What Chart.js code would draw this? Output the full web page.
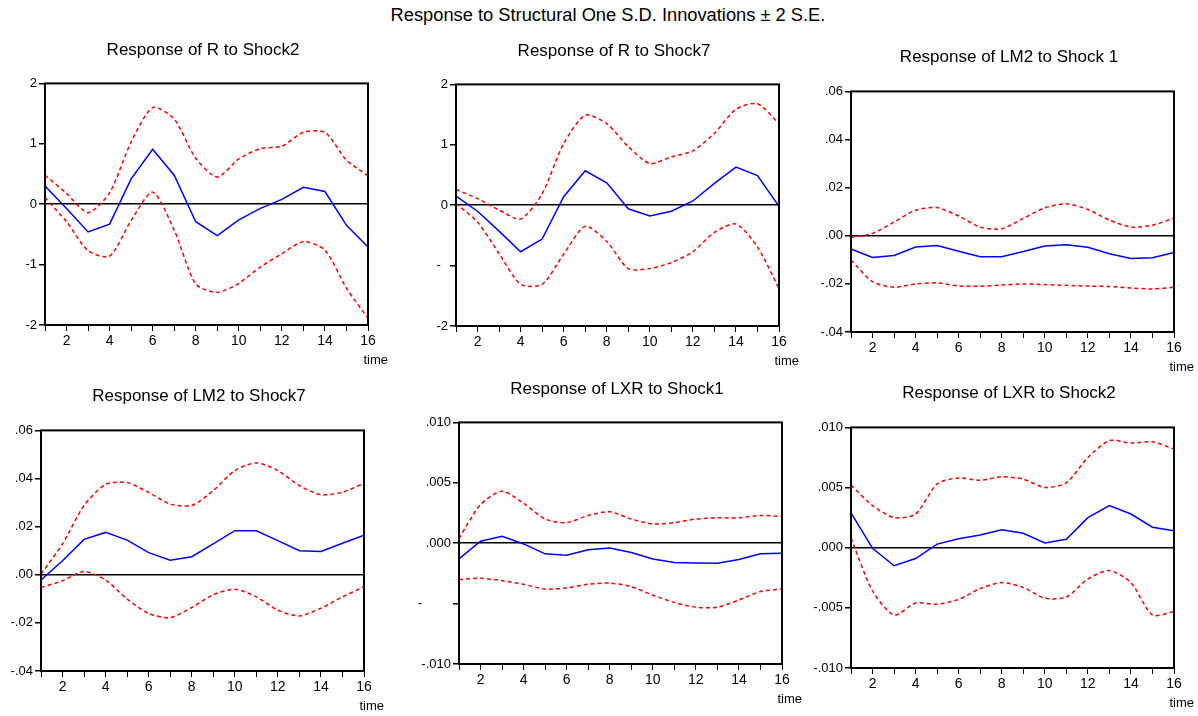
<!DOCTYPE html>
<html>
<head>
<meta charset="utf-8">
<script src="https://cdn.jsdelivr.net/npm/chart.js@4.4.1/dist/chart.umd.min.js"></script>
<style>
  body { margin: 0; background: #fff; width: 1198px; height: 716px; position: relative; overflow: hidden; }
  canvas { position: absolute; }
  #mainTitle { position: absolute; left: 0; width: 1216px; top: 4px; text-align: center;
    font-family: "Liberation Sans", Arial, sans-serif; font-size: 18.3px; line-height: 22px; color: #000; }
</style>
</head>
<body>
<div id="mainTitle">Response to Structural One S.D. Innovations ± 2 S.E.</div>
<canvas id="c1"></canvas>
<canvas id="c2"></canvas>
<canvas id="c3"></canvas>
<canvas id="c4"></canvas>
<canvas id="c5"></canvas>
<canvas id="c6"></canvas>
<script>
  // periods after the shock
  const periods = ['1','2','3','4','5','6','7','8','9','10','11','12','13','14','15','16'];

  // Response of R to Shock2
  const rShock2 = [0.30, -0.07, -0.46, -0.33, 0.42, 0.91, 0.48, -0.29, -0.52, -0.26, -0.07, 0.08, 0.28, 0.21, -0.35, -0.71];
  const rShock2Hi = [0.48, 0.18, -0.14, 0.19, 1.03, 1.60, 1.41, 0.76, 0.45, 0.75, 0.92, 0.96, 1.19, 1.19, 0.73, 0.47];
  const rShock2Lo = [0.11, -0.29, -0.77, -0.86, -0.27, 0.20, -0.43, -1.32, -1.46, -1.31, -1.04, -0.82, -0.62, -0.76, -1.39, -1.89];

  // Response of R to Shock7
  const rShock7 = [0.15, -0.10, -0.43, -0.77, -0.56, 0.14, 0.57, 0.37, -0.06, -0.18, -0.10, 0.07, 0.36, 0.63, 0.49, -0.02];
  const rShock7Hi = [0.26, 0.11, -0.08, -0.23, 0.19, 1.02, 1.49, 1.35, 0.97, 0.69, 0.80, 0.90, 1.19, 1.59, 1.68, 1.35];
  const rShock7Lo = [0.03, -0.28, -0.80, -1.31, -1.31, -0.81, -0.35, -0.60, -1.05, -1.05, -0.95, -0.77, -0.45, -0.31, -0.69, -1.38];

  // Response of LM2 to Shock 1
  const lm2Shock1 = [-0.0055, -0.0090, -0.0082, -0.0047, -0.0041, -0.0064, -0.0087, -0.0087, -0.0065, -0.0043, -0.0037, -0.0048, -0.0075, -0.0094, -0.0091, -0.0070];
  const lm2Shock1Hi = [-0.0007, 0.0010, 0.0057, 0.0106, 0.0117, 0.0082, 0.0036, 0.0029, 0.0072, 0.0116, 0.0133, 0.0109, 0.0065, 0.0036, 0.0044, 0.0073];
  const lm2Shock1Lo = [-0.0101, -0.0191, -0.0214, -0.0200, -0.0196, -0.0209, -0.0210, -0.0205, -0.0200, -0.0203, -0.0206, -0.0209, -0.0211, -0.0217, -0.0221, -0.0214];

  // Response of LM2 to Shock7
  const lm2Shock7 = [-0.0022, 0.0058, 0.0147, 0.0176, 0.0144, 0.0092, 0.0060, 0.0075, 0.0128, 0.0183, 0.0183, 0.0142, 0.0100, 0.0097, 0.0131, 0.0164];
  const lm2Shock7Hi = [0.0003, 0.0128, 0.0288, 0.0376, 0.0383, 0.0342, 0.0294, 0.0288, 0.0350, 0.0433, 0.0465, 0.0433, 0.0370, 0.0333, 0.0343, 0.0380];
  const lm2Shock7Lo = [-0.0053, -0.0025, 0.0014, -0.0022, -0.0101, -0.0161, -0.0178, -0.0136, -0.0083, -0.0060, -0.0092, -0.0147, -0.0171, -0.0139, -0.0092, -0.0050];

  // Response of LXR to Shock1
  const lxrShock1 = [-0.0013, 0.00017, 0.00058, -0.00006, -0.00088, -0.0010, -0.00055, -0.0004, -0.00077, -0.0013, -0.0016, -0.00163, -0.00166, -0.00135, -0.00088, -0.00083];
  const lxrShock1Hi = [0.0004, 0.0032, 0.0043, 0.0033, 0.0020, 0.0017, 0.0023, 0.0026, 0.0020, 0.0016, 0.0017, 0.0020, 0.0021, 0.0021, 0.0023, 0.0022];
  const lxrShock1Lo = [-0.0030, -0.0029, -0.0031, -0.0034, -0.0038, -0.0037, -0.0034, -0.0033, -0.0036, -0.0043, -0.0049, -0.0053, -0.0053, -0.0047, -0.0040, -0.0038];

  // Response of LXR to Shock2
  const lxrShock2 = [0.0029, -0.00005, -0.0015, -0.0009, 0.0003, 0.00075, 0.00105, 0.0015, 0.0012, 0.0004, 0.0007, 0.0025, 0.0035, 0.0028, 0.0017, 0.0014];
  const lxrShock2Hi = [0.0052, 0.0035, 0.0025, 0.0028, 0.0053, 0.0058, 0.0056, 0.0059, 0.0057, 0.0050, 0.0054, 0.0075, 0.0089, 0.0087, 0.0088, 0.0082];
  const lxrShock2Lo = [0.0008, -0.0036, -0.0056, -0.0046, -0.0047, -0.0043, -0.0034, -0.0029, -0.0033, -0.0042, -0.0041, -0.0026, -0.0019, -0.0029, -0.0056, -0.0053];

  // y axis ticks and their labels (some labels are clipped in the original)
  const yTicksR = [2, 1, 0, -1, -2];
  const yLabelsR2 = ['2', '1', '0', '-1', '-2'];
  const yLabelsR7 = ['2', '1', '0', '-\u2007', '-2'];
  const yTicksLM2 = [0.06, 0.04, 0.02, 0, -0.02, -0.04];
  const yLabelsLM2 = ['.06', '.04', '.02', '.00', '-.02', '-.04'];
  const yTicksLXR = [0.010, 0.005, 0, -0.005, -0.010];
  const yLabelsLXR1 = ['.010', '.005', '.000', '-\u2007\u2007\u2007\u2007', '-.010'];
  const yLabelsLXR2 = ['.010', '.005', '.000', '-.005', '-.010'];

  const FONT = '"Liberation Sans", Arial, sans-serif';

  // frame around the plot + "time" label
  const framePlugin = {
    id: 'frame',
    afterDatasetsDraw(chart) {
      const a = chart.chartArea, ctx = chart.ctx;
      ctx.save();
      ctx.strokeStyle = '#000';
      ctx.lineWidth = 2;
      ctx.strokeRect(a.left, a.top, a.right - a.left, a.bottom - a.top);
      ctx.fillStyle = '#000';
      ctx.font = '13px ' + FONT;
      ctx.textAlign = 'right';
      ctx.textBaseline = 'middle';
      ctx.fillText('time', a.right + 20, a.bottom + 35);
      ctx.restore();
    }
  };

  function makePanel(id, title, box, mid, hi, lo, yTicks, yLabels) {
    const canvas = document.getElementById(id);
    const top = box.titleY - 10;
    const w = 45 + box.w + 38;
    const h = (box.top - top) + box.h + 45;
    canvas.width = w; canvas.height = h;
    canvas.style.left = (box.left - 45) + 'px';
    canvas.style.top = top + 'px';
    const yMin = Math.min(...yTicks), yMax = Math.max(...yTicks);

    new Chart(canvas.getContext('2d'), {
      type: 'line',
      data: {
        labels: periods,
        datasets: [
          { data: hi, borderColor: '#ff0000', borderWidth: 1.5, borderDash: [4, 3], tension: 0.25, pointRadius: 0, fill: false },
          { data: lo, borderColor: '#ff0000', borderWidth: 1.5, borderDash: [4, 3], tension: 0.25, pointRadius: 0, fill: false },
          { data: mid, borderColor: '#0000ff', borderWidth: 1.5, tension: 0, pointRadius: 0, fill: false }
        ]
      },
      options: {
        responsive: false,
        animation: false,
        devicePixelRatio: 1,
        layout: { padding: 0 },
        plugins: {
          legend: { display: false },
          tooltip: { enabled: false },
          title: {
            display: true, text: title, color: '#000',
            font: { family: FONT, size: 17, weight: 'normal' },
            padding: { top: 0, bottom: box.top - box.titleY - 10 }
          }
        },
        scales: {
          x: {
            type: 'category',
            offset: false,
            grid: { display: true, drawOnChartArea: false, tickLength: 6, tickColor: '#000', lineWidth: 1, offset: false },
            border: { display: false },
            ticks: {
              color: '#000', font: { family: FONT, size: 14 }, padding: 2,
              maxRotation: 0, autoSkip: false,
              callback: (v, i) => (i % 2 === 1 ? periods[i] : '')
            },
            afterFit: s => { s.height = 45; }
          },
          y: {
            min: yMin, max: yMax,
            afterBuildTicks: s => { s.ticks = yTicks.map(v => ({ value: v })); },
            grid: {
              drawOnChartArea: true, tickLength: 6, tickColor: '#000', lineWidth: 1.5,
              color: c => (c.tick && Math.abs(c.tick.value) < 1e-12 ? '#000' : 'rgba(0,0,0,0)')
            },
            border: { display: false },
            ticks: {
              color: '#000', font: { family: FONT, size: 13 }, padding: 2,
              callback: v => {
                const i = yTicks.findIndex(t => Math.abs(t - v) < 1e-12);
                return i >= 0 ? yLabels[i] : '';
              }
            },
            afterFit: s => { s.width = 45; }
          },
          // empty right-hand axis: keeps room for the "time" label and centres the title
          yRight: {
            position: 'right',
            grid: { display: false },
            border: { display: false },
            ticks: { display: false },
            afterFit: s => { s.width = 38; }
          }
        }
      },
      plugins: [framePlugin]
    });
  }

  makePanel('c1', 'Response of R to Shock2', { left: 45, top: 83, w: 323, h: 242, titleY: 50 }, rShock2, rShock2Hi, rShock2Lo, yTicksR, yLabelsR2);
  makePanel('c2', 'Response of R to Shock7', { left: 456, top: 84, w: 323, h: 242, titleY: 51 }, rShock7, rShock7Hi, rShock7Lo, yTicksR, yLabelsR7);
  makePanel('c3', 'Response of LM2 to Shock 1', { left: 851, top: 91, w: 323, h: 241, titleY: 57 }, lm2Shock1, lm2Shock1Hi, lm2Shock1Lo, yTicksLM2, yLabelsLM2);
  makePanel('c4', 'Response of LM2 to Shock7', { left: 41, top: 430, w: 323, h: 241, titleY: 396 }, lm2Shock7, lm2Shock7Hi, lm2Shock7Lo, yTicksLM2, yLabelsLM2);
  makePanel('c5', 'Response of LXR to Shock1', { left: 459, top: 422, w: 323, h: 242, titleY: 389 }, lxrShock1, lxrShock1Hi, lxrShock1Lo, yTicksLXR, yLabelsLXR1);
  makePanel('c6', 'Response of LXR to Shock2', { left: 851, top: 427, w: 323, h: 241, titleY: 393 }, lxrShock2, lxrShock2Hi, lxrShock2Lo, yTicksLXR, yLabelsLXR2);
</script>
</body>
</html>
